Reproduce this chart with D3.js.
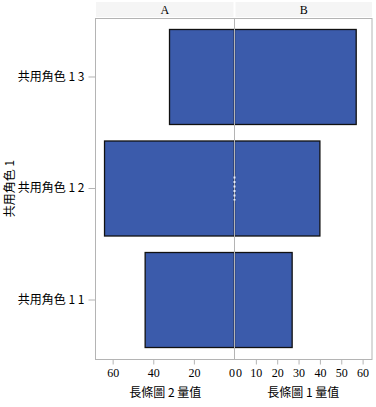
<!DOCTYPE html>
<html>
<head>
<meta charset="utf-8">
<script src="https://cdn.jsdelivr.net/npm/d3@7"></script>
<style>
  body { margin: 0; background: #fff; }
  text { font-family: "Liberation Serif", "Noto Sans CJK TC", serif; fill: #000; }
  .cjk { font-family: "Noto Sans CJK TC", sans-serif; }
</style>
</head>
<body>
<svg id="chart"></svg>
<script>
// categories (top to bottom)
var categories = ["共用角色 1 3", "共用角色 1 2", "共用角色 1 1"];
// panel A: 長條圖 2 量值 (drawn leftwards)
var valuesA = [32, 64, 44];
// panel B: 長條圖 1 量值
var valuesB = [57, 40, 27];
var ticksA = [60, 40, 20, 0];
var ticksB = [0, 10, 20, 30, 40, 50, 60];
var panels = ["A", "B"];
var axisTitles = ["長條圖 2 量值", "長條圖 1 量值"];
var yTitle = "共用角色 1";

var svgWidth = 376, svgHeight = 407;
var margin = { top: 18, left: 96, right: 4, bottom: 48 };
var plotBottom = svgHeight - margin.bottom;
var midX = 234.5;
var gray = "#b4b4b4";
var barColor = "#3b5bab";

var svg = d3.select("#chart")
  .attr("width", svgWidth)
  .attr("height", svgHeight);

//scales
var xA = d3.scaleLinear().domain([0, 68.2]).range([midX, margin.left]);
var xB = d3.scaleLinear().domain([0, 64.4]).range([midX, svgWidth - margin.right]);
var y = d3.scaleBand()
  .domain(categories)
  .range([margin.top, plotBottom])
  .paddingInner(0.148)
  .paddingOuter(0.103);

//header strips
var strips = [[margin.left, midX - 1], [midX + 1, svgWidth - margin.right]];
strips.forEach(function(s, i){
  svg.append("rect")
    .attr("x", s[0]).attr("y", 2)
    .attr("width", s[1] - s[0]).attr("height", 15)
    .attr("fill", "#f5f5f5");
  svg.append("text")
    .attr("x", (s[0] + s[1]) / 2).attr("y", 14)
    .attr("text-anchor", "middle")
    .style("font-size", "12px")
    .text(panels[i]);
});

//bars
svg.append("g").selectAll("rect")
  .data(valuesA)
  .join("rect")
  .attr("x", d => xA(d))
  .attr("y", (d, i) => y(categories[i]))
  .attr("width", d => xA(0) - xA(d))
  .attr("height", y.bandwidth())
  .attr("fill", barColor)
  .attr("stroke", "#111")
  .attr("stroke-width", 1.3);

svg.append("g").selectAll("rect")
  .data(valuesB)
  .join("rect")
  .attr("x", xB(0))
  .attr("y", (d, i) => y(categories[i]))
  .attr("width", d => xB(d) - xB(0))
  .attr("height", y.bandwidth())
  .attr("fill", barColor)
  .attr("stroke", "#111")
  .attr("stroke-width", 1.3);

//frame + centre divider
svg.append("rect")
  .attr("x", margin.left - 0.5).attr("y", margin.top + 0.5)
  .attr("width", svgWidth - margin.right - margin.left + 0.5)
  .attr("height", plotBottom - margin.top)
  .attr("fill", "none")
  .attr("stroke", gray)
  .attr("stroke-width", 1);
svg.append("line")
  .attr("x1", midX).attr("x2", midX)
  .attr("y1", margin.top).attr("y2", plotBottom)
  .attr("stroke", gray);

//little dotted mark on the centre line of the middle bar
var cy = y(categories[1]) + y.bandwidth() / 2;
svg.append("line")
  .attr("x1", midX).attr("x2", midX)
  .attr("y1", cy - 12).attr("y2", cy + 12)
  .attr("stroke", "#e8eeff")
  .attr("stroke-width", 2)
  .attr("stroke-dasharray", "2,2.5");

//x axes
function xAxis(scale, ticks, zeroAnchor){
  var g = svg.append("g")
    .attr("transform", `translate(0,${plotBottom + 0.5})`)
    .call(d3.axisBottom(scale).tickValues(ticks).tickSize(5).tickSizeOuter(0));
  g.select(".domain").remove();
  g.selectAll("line").attr("stroke", gray);
  g.selectAll("text")
    .attr("y", 9)
    .style("font-family", "Liberation Serif")
    .style("font-size", "12px");
  //the two zero labels sit side by side
  g.selectAll(".tick").filter(d => d === 0).select("text")
    .attr("text-anchor", zeroAnchor)
    .attr("x", zeroAnchor === "end" ? 0 : 1);
  g.selectAll(".tick").filter(d => d === 0).select("line").remove();
  return g;
}
xAxis(xA, ticksA, "end");
xAxis(xB, ticksB, "start");

//x axis titles
[[margin.left, midX], [midX, svgWidth - margin.right]].forEach(function(s, i){
  svg.append("text")
    .attr("class", "cjk")
    .attr("x", (s[0] + s[1]) / 2)
    .attr("y", 397)
    .attr("text-anchor", "middle")
    .style("font-size", "12px")
    .text(axisTitles[i]);
});

//y axis
var ya = svg.append("g")
  .attr("transform", `translate(${margin.left - 0.5},0)`)
  .call(d3.axisLeft(y).tickSize(7).tickSizeOuter(0).tickPadding(4));
ya.select(".domain").remove();
ya.selectAll("line").attr("stroke", gray);
ya.selectAll("text")
  .attr("class", "cjk")
  .style("font-size", "12px");

svg.append("text")
  .attr("class", "cjk")
  .attr("transform", `translate(14,${(margin.top + plotBottom) / 2}) rotate(-90)`)
  .attr("text-anchor", "middle")
  .style("font-size", "12px")
  .text(yTitle);
</script>
</body>
</html>
